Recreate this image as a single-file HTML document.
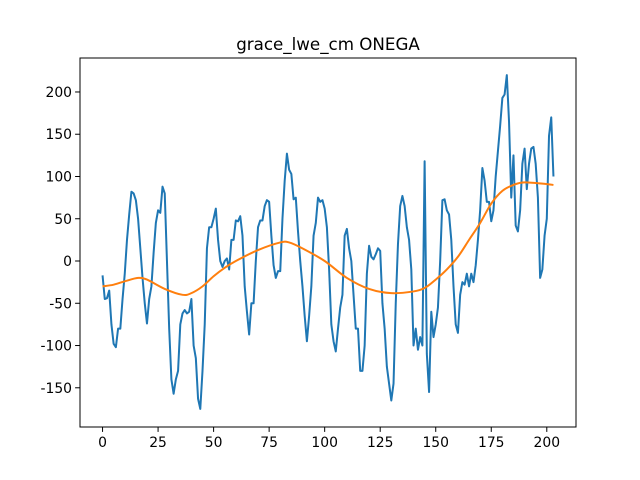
<!DOCTYPE html>
<html><head><meta charset="utf-8"><style>
body{margin:0;background:#fff;}
svg{display:block;font-family:"DejaVu Sans","Liberation Sans",sans-serif;}
</style></head><body>
<svg id="chart" width="640" height="480"></svg>
<script>
const seriesValues=[-17,-45,-44,-35,-75,-98,-102,-80,-80,-45,-15,25,55,82,80,72,50,15,-20,-50,-74,-45,-30,10,45,60,57,88,80,0,-80,-140,-157,-140,-130,-75,-62,-58,-62,-60,-45,-100,-115,-163,-175,-130,-75,15,40,40,50,62,25,0,-7,0,3,-10,25,25,48,47,53,30,-30,-60,-87,-50,-50,0,40,48,48,65,72,70,30,-5,-20,-12,-12,50,95,127,108,103,73,75,35,0,-30,-65,-95,-65,-30,30,45,75,70,72,62,40,-10,-75,-95,-107,-80,-55,-40,30,38,15,0,-40,-80,-80,-130,-130,-100,-15,18,5,2,8,15,12,-50,-80,-125,-145,-165,-145,-50,20,65,77,65,40,25,-10,-100,-80,-105,-90,-100,118,-110,-155,-60,-90,-75,-55,0,72,73,60,55,25,-30,-75,-85,-40,-25,-28,-15,-30,-15,-25,-5,25,60,110,95,70,70,47,60,100,130,160,193,197,220,165,75,125,42,35,60,115,133,85,115,133,135,115,75,-20,-10,30,50,148,170,100];
const trendX=[0,5,10,16,20,28,36,40,45,50,55,60,70,80,84,90,100,110,120,130,140,145,150,155,160,165,170,175,180,185,190,200,203];
const trendY=[-30,-28,-24,-20,-22,-33,-40,-38,-30,-18,-8,0,13,22,22,15,0,-20,-33,-38,-36,-32,-22,-10,5,25,45,68,83,90,93,91,90];
const xTicks=[0,25,50,75,100,125,150,175,200];
const yTicks=[-150,-100,-50,0,50,100,150,200];
const L=80,R=576,T=58,B=427;
const xMin=-10.15,xMax=213.15,yMin=-196.4,yMax=240.2;
const sx=v=>L+(v-xMin)/(xMax-xMin)*(R-L);
const sy=v=>B-(v-yMin)/(yMax-yMin)*(B-T);
const svg=document.getElementById('chart');
const NS='http://www.w3.org/2000/svg';
function mk(tag,attrs,parent){const e=document.createElementNS(NS,tag);for(const k in attrs)e.setAttribute(k,attrs[k]);(parent||svg).appendChild(e);return e;}
let t=mk('text',{x:328,y:50,'text-anchor':'middle','font-size':16.7,fill:'#000'});t.textContent='grace_lwe_cm ONEGA';


let d=seriesValues.map((v,i)=>(i?'L':'M')+sx(i).toFixed(2)+','+sy(v).toFixed(2)).join('');
let p=mk('path',{d:d,fill:'none',stroke:'#1f77b4','stroke-width':2,'stroke-linejoin':'round'});


let pts=trendX.map((x,i)=>[sx(x),sy(trendY[i])]);
let td='M'+pts[0][0]+','+pts[0][1];
for(let i=0;i<pts.length-1;i++){const p0=pts[Math.max(0,i-1)],p1=pts[i],p2=pts[i+1],p3=pts[Math.min(pts.length-1,i+2)];
td+='C'+(p1[0]+(p2[0]-p0[0])/6)+','+(p1[1]+(p2[1]-p0[1])/6)+' '+(p2[0]-(p3[0]-p1[0])/6)+','+(p2[1]-(p3[1]-p1[1])/6)+' '+p2[0]+','+p2[1];}
let q=mk('path',{d:td,fill:'none',stroke:'#ff7f0e','stroke-width':2});


let fr=mk('rect',{x:L,y:T,width:R-L,height:B-T,fill:'none',stroke:'#000','stroke-width':1});


xTicks.forEach(v=>{const x=sx(v);mk('line',{x1:x,x2:x,y1:B,y2:B+4.9,stroke:'#000','stroke-width':1});
const e=mk('text',{x:x,y:B+20,'text-anchor':'middle','font-size':13.9,fill:'#000'});e.textContent=v;

});
yTicks.forEach(v=>{const y=sy(v);mk('line',{x1:L,x2:L-4.9,y1:y,y2:y,stroke:'#000','stroke-width':1});
const e=mk('text',{x:L-8,y:y+5,'text-anchor':'end','font-size':13.9,fill:'#000'});e.textContent=v;

});
</script>
</body></html>
